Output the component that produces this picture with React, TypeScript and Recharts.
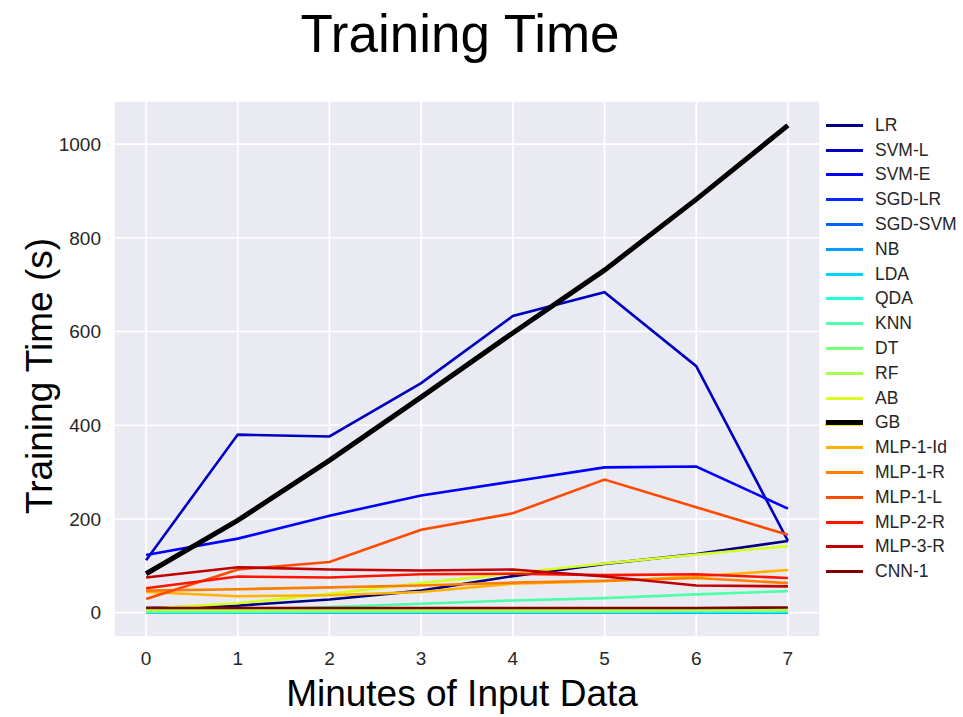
import { LineChart, Line, XAxis, YAxis, CartesianGrid, Legend } from "recharts";

const FONT = "'Liberation Sans', Arial, Helvetica, sans-serif";
const TEXT = "#262626";

const MINUTES = [0, 1, 2, 3, 4, 5, 6, 7];
const Y_TICKS = [0, 200, 400, 600, 800, 1000];

// training time in seconds, one array per model
const LR = [10, 15, 28, 47, 78, 104, 125, 153];
const SVM_L = [112, 380, 376, 490, 633, 684, 526, 153];
const SVM_E = [123, 158, 207, 250, 280, 310, 312, 222];
const SGD_LR = [1, 1, 1, 1, 1, 1, 1, 1];
const SGD_SVM = [0, 0, 0, 0, 0, 0, 0, 0];
const NB = [0, 0, 0, 0, 0, 0, 0, 0];
const LDA = [1, 1, 1, 1, 1, 1, 1, 1];
const QDA = [1, 1, 2, 2, 2, 2, 2, 2];
const KNN = [2, 6, 12, 19, 26, 31, 39, 46];
const DT = [3, 3, 3, 3, 3, 3, 4, 4];
const RF = [5, 5, 6, 6, 6, 6, 7, 7];
const AB = [8, 20, 40, 63, 84, 105, 124, 142];
const GB = [83, 197, 325, 460, 597, 731, 882, 1040];
const MLP_1_ID = [44, 35, 37, 44, 62, 67, 77, 91];
const MLP_1_R = [47, 50, 54, 58, 64, 68, 74, 63];
const MLP_1_L = [29, 92, 108, 177, 212, 284, 225, 166];
const MLP_2_R = [52, 77, 75, 82, 83, 80, 82, 74];
const MLP_3_R = [75, 97, 92, 90, 92, 77, 58, 56];
const CNN_1 = [10, 10, 10, 10, 10, 10, 10, 11];

const SERIES = [
  { name: "LR", values: LR, color: "#000080" },
  { name: "SVM-L", values: SVM_L, color: "#0000c0" },
  { name: "SVM-E", values: SVM_E, color: "#0000ff" },
  { name: "SGD-LR", values: SGD_LR, color: "#002aff" },
  { name: "SGD-SVM", values: SGD_SVM, color: "#0063ff" },
  { name: "NB", values: NB, color: "#009cff" },
  { name: "LDA", values: LDA, color: "#00d4ff" },
  { name: "QDA", values: QDA, color: "#20ffd7" },
  { name: "KNN", values: KNN, color: "#4dffaa" },
  { name: "DT", values: DT, color: "#7dff7a" },
  { name: "RF", values: RF, color: "#a9ff4d" },
  { name: "AB", values: AB, color: "#d7ff1f" },
  { name: "GB", values: GB, color: "#ffe600" },
  { name: "MLP-1-Id", values: MLP_1_ID, color: "#ffb200" },
  { name: "MLP-1-R", values: MLP_1_R, color: "#ff7e00" },
  { name: "MLP-1-L", values: MLP_1_L, color: "#ff4a00" },
  { name: "MLP-2-R", values: MLP_2_R, color: "#ff1400" },
  { name: "MLP-3-R", values: MLP_3_R, color: "#c00000" },
  { name: "CNN-1", values: CNN_1, color: "#800000" },
];

const rows = MINUTES.map((m, i) => {
  const row: Record<string, number> = { x: m };
  SERIES.forEach((s) => (row[s.name] = s.values[i]));
  return row;
});

function LegendBox() {
  return (
    <div style={{ fontFamily: FONT, fontSize: 17.5, color: TEXT }}>
      {SERIES.map((s) => (
        <div key={s.name} style={{ display: "flex", alignItems: "center", height: 24.8 }}>
          <div style={{ position: "relative", width: 37, height: 5, marginRight: 12 }}>
            <div
              style={{
                position: "absolute",
                left: 0,
                right: 0,
                top: s.name === "GB" ? 0 : 1,
                height: s.name === "GB" ? 5 : 3,
                background: s.name === "GB" ? "#000" : s.color,
                boxShadow: s.name === "GB" ? "-1px 1px 0 #ffe600" : undefined,
              }}
            />
          </div>
          <span>{s.name}</span>
        </div>
      ))}
    </div>
  );
}

export default function App() {
  return (
    <div style={{ position: "absolute", left: 0, top: 0, width: 963, height: 717, background: "#fff" }}>
      <LineChart
        width={963}
        height={717}
        data={rows}
        margin={{ top: 101, right: 143, bottom: 40, left: 54 }}
      >
        <CartesianGrid fill="#eaeaf2" fillOpacity={1} stroke="#ffffff" strokeWidth={1.6} />
        <XAxis
          dataKey="x"
          type="number"
          domain={[-0.35, 7.35]}
          ticks={MINUTES}
          allowDataOverflow
          axisLine={false}
          tickLine={false}
          tickSize={0}
          tickMargin={15}
          height={40}
          tick={{ fontSize: 19, fill: TEXT, fontFamily: FONT }}
        />
        <YAxis
          type="number"
          domain={[-52, 1092]}
          ticks={Y_TICKS}
          allowDataOverflow
          axisLine={false}
          tickLine={false}
          tickSize={0}
          tickMargin={13}
          width={60}
          tick={{ fontSize: 19, fill: TEXT, fontFamily: FONT }}
        />
        {SERIES.map((s) => (
          <Line
            key={s.name}
            dataKey={s.name}
            stroke={s.name === "GB" ? "#000" : s.color}
            strokeWidth={s.name === "GB" ? 5 : 2.6}
            dot={false}
            activeDot={false}
            isAnimationActive={false}
          />
        ))}
        <Legend
          layout="vertical"
          align="center"
          verticalAlign="middle"
          wrapperStyle={{ left: 826, top: 113, width: 137 }}
          content={() => <LegendBox />}
        />
      </LineChart>
      <svg
        width={963}
        height={717}
        style={{ position: "absolute", left: 0, top: 0, pointerEvents: "none" }}
        fontFamily={FONT}
        fill="#000"
      >
        <text x={460} y={52} textAnchor="middle" fontSize={53}>
          Training Time
        </text>
        <text x={462} y={706} textAnchor="middle" fontSize={37}>
          Minutes of Input Data
        </text>
        <text x={52} y={376} textAnchor="middle" fontSize={37} transform="rotate(-90 52 376)">
          Training Time (s)
        </text>
      </svg>
    </div>
  );
}
